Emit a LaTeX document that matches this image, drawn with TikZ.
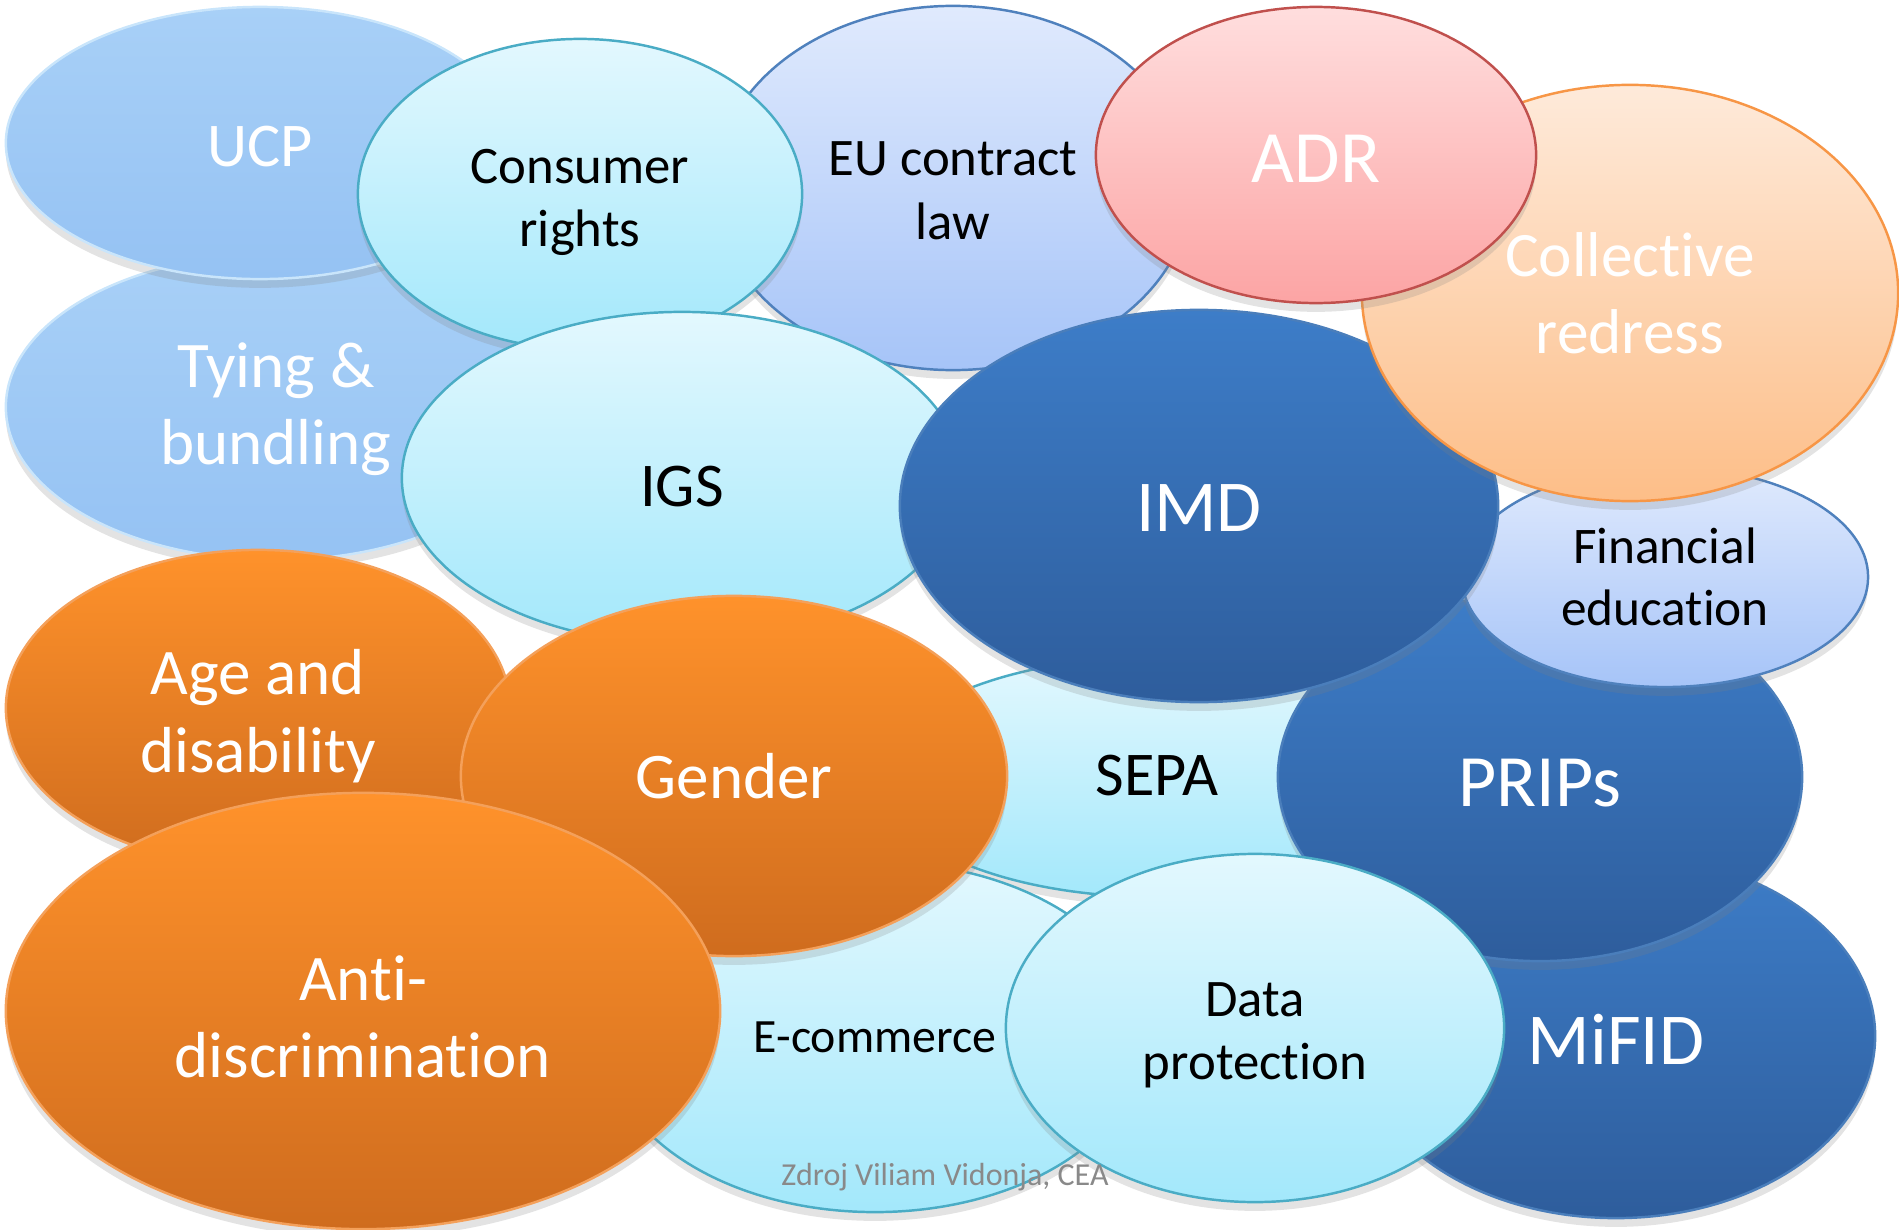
\documentclass[tikz,border=0pt]{standalone}
\usepackage{fontspec}
\setmainfont{Carlito}[Ligatures={NoCommon,NoContextual}]
\usepackage{tikz}
\usetikzlibrary{shapes.geometric,shadows}
\definecolor{aquatop}{HTML}{E3F8FE}
\definecolor{aquabot}{HTML}{A3E8FB}
\definecolor{aquaedge}{HTML}{4AACC5}
\definecolor{lavtop}{HTML}{E0EAFD}
\definecolor{lavbot}{HTML}{A6C4F8}
\definecolor{lavedge}{HTML}{4F81BD}
\definecolor{skytop}{HTML}{A8D0F7}
\definecolor{skybot}{HTML}{95C2F3}
\definecolor{skyedge}{HTML}{C9E5FB}
\definecolor{rosetop}{HTML}{FFDEDE}
\definecolor{rosebot}{HTML}{FCA4A4}
\definecolor{roseedge}{HTML}{C0504D}
\definecolor{peachtop}{HTML}{FEEADA}
\definecolor{peachbot}{HTML}{FDBE88}
\definecolor{peachedge}{HTML}{F79646}
\definecolor{navytop}{HTML}{3D7DC8}
\definecolor{navybot}{HTML}{2E5D9C}
\definecolor{navyedge}{HTML}{4A7EBB}
\definecolor{orangetop}{HTML}{FF922B}
\definecolor{orangebot}{HTML}{CF6C1E}
\definecolor{orangeedge}{HTML}{F4A05A}
\definecolor{sourcegray}{HTML}{898989}
% lower a line of text inside its bubble without changing the bubble
\newcommand\lowered[2]{\raisebox{-#1}[\height][\depth]{#2}}
\tikzset{
    bubble/.style = {ellipse, inner sep=0pt, align=center, line width=0.7pt,
                 drop shadow={opacity=0.22, shadow xshift=0pt, shadow yshift=-2.5pt}},
    aqua/.style = {bubble, top color=aquatop, bottom color=aquabot, draw=aquaedge, text=black},
    lavender/.style = {bubble, top color=lavtop, bottom color=lavbot, draw=lavedge, text=black},
    sky/.style = {bubble, top color=skytop, bottom color=skybot, draw=skyedge, text=white},
    rose/.style = {bubble, top color=rosetop, bottom color=rosebot, draw=roseedge, text=white},
    peach/.style = {bubble, top color=peachtop, bottom color=peachbot, draw=peachedge, text=white},
    navy/.style = {bubble, top color=navytop, bottom color=navybot, draw=navyedge, text=white},
    tangerine/.style = {bubble, top color=orangetop, bottom color=orangebot, draw=orangeedge, text=white},
    source/.style = {text=sourcegray, font=\fontsize{9.1}{11}\selectfont},
}

\begin{document}
\begin{tikzpicture}[x=0.01cm,y=-0.01cm]
\useasboundingbox (0,0) rectangle (1899,1230);
% back row
\node[sky, minimum width=5.40cm, minimum height=3.06cm, font=\fontsize{18.5}{22}\selectfont] (tying) at (276,407) {\lowered{0.6pt}{Tying \&}\\\lowered{0.6pt}{bundling}};
\node[sky, minimum width=5.08cm, minimum height=2.72cm, font=\fontsize{17.7}{21}\selectfont] (ucp) at (260,143) {\lowered{1pt}{UCP}};
\node[lavender, minimum width=4.76cm, minimum height=3.64cm, font=\fontsize{15}{18}\selectfont] (eu) at (953,188) {\lowered{0.8pt}{EU contract}\\\lowered{0.8pt}{law}};
\node[aqua, minimum width=4.44cm, minimum height=3.10cm, font=\fontsize{15}{18}\selectfont] (consumer) at (580,194) {\lowered{2.3pt}{Consumer}\\\lowered{2.3pt}{rights}};
\node[aqua, minimum width=5.60cm, minimum height=3.32cm, font=\fontsize{17.7}{21}\selectfont] (igs) at (682,478) {\lowered{2.3pt}{IGS}};
\node[aqua, minimum width=5.56cm, minimum height=2.40cm, font=\fontsize{17.7}{21}\selectfont] (sepa) at (1157,777) {\lowered{-0.5pt}{SEPA}};
\node[navy, minimum width=5.18cm, minimum height=3.64cm, font=\fontsize{20.8}{25}\selectfont] (mifid) at (1616,1036) {\lowered{1pt}{MiFID}};
\node[navy, minimum width=5.24cm, minimum height=3.68cm, font=\fontsize{21}{25}\selectfont] (prips) at (1540,777) {\lowered{1.7pt}{PRIPs}};
\node[lavender, minimum width=4.06cm, minimum height=2.20cm, font=\fontsize{14.6}{17.6}\selectfont] (finedu) at (1665,577) {Financial\\education};
\node[navy, minimum width=5.98cm, minimum height=3.92cm, font=\fontsize{20.8}{25}\selectfont] (imd) at (1199,506) {\lowered{0.6pt}{IMD}};
\node[peach, minimum width=5.36cm, minimum height=4.16cm, font=\fontsize{18}{21.8}\selectfont] (redress) at (1630,293) {Collective\\redress};
\node[rose, minimum width=4.40cm, minimum height=2.96cm, font=\fontsize{21}{25}\selectfont] (adr) at (1316,155) {\lowered{1pt}{ADR}};
% front row
\node[tangerine, minimum width=5.04cm, minimum height=3.16cm, font=\fontsize{18.5}{22}\selectfont] (age) at (258,708) {\lowered{2.3pt}{Age and}\\\lowered{2.3pt}{disability}};
\node[aqua, minimum width=5.40cm, minimum height=3.50cm, font=\fontsize{13.6}{16.5}\selectfont] (ecommerce) at (875,1037) {E-commerce};
\node[tangerine, minimum width=5.46cm, minimum height=3.60cm, font=\fontsize{18.5}{22}\selectfont] (gender) at (734,776) {Gender};
\node[tangerine, minimum width=7.14cm, minimum height=4.36cm, font=\fontsize{18.5}{22}\selectfont] (antidisc) at (363,1011) {\lowered{1.7pt}{Anti-}\\\lowered{1.7pt}{discrimination}};
\node[aqua, minimum width=4.98cm, minimum height=3.48cm, font=\fontsize{15}{18}\selectfont] (dataprot) at (1255,1028) {\lowered{2pt}{Data}\\\lowered{2pt}{protection}};
\node[source] (credit) at (945,1177) {Zdroj Viliam Vidonja, CEA};
\end{tikzpicture}
\end{document}
